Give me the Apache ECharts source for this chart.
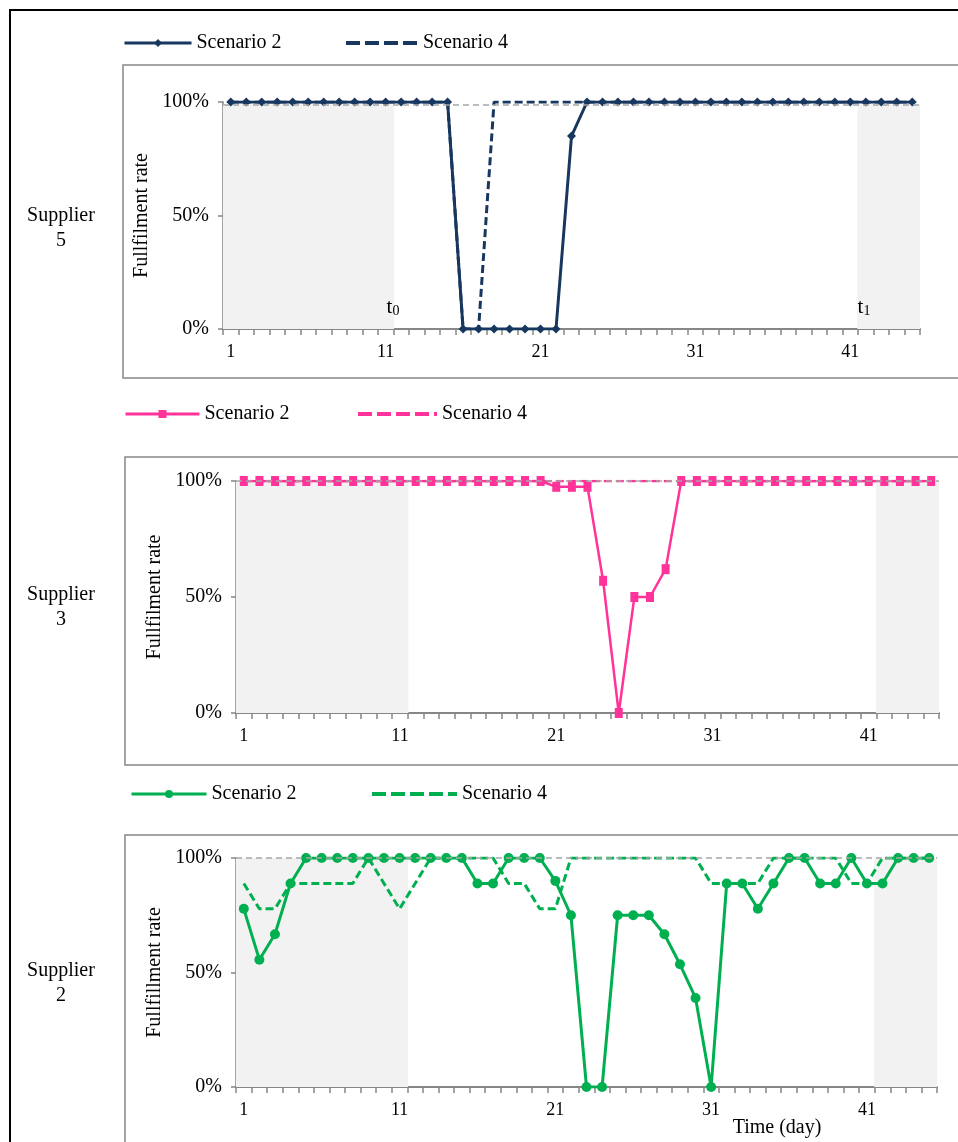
<!DOCTYPE html>
<html>
<head>
<meta charset="utf-8">
<script src="https://cdn.jsdelivr.net/npm/echarts@6/dist/echarts.min.js"></script>
<style>
html,body{margin:0;padding:0;background:#fff;}
#chart{width:958px;height:1142px;}
</style>
</head>
<body>
<div id="chart"></div>
<script>
// ---------- DATA ----------
var days = ['1','2','3','4','5','6','7','8','9','10','11','12','13','14','15','16','17','18','19','20',
            '21','22','23','24','25','26','27','28','29','30','31','32','33','34','35','36','37','38','39','40',
            '41','42','43','44','45'];
var yTicks = [0, 50, 100];

// Supplier 5
var sup5Scenario2 = [100,100,100,100,100,100,100,100,100,100,100,100,100,100,100,
                     0,0,0,0,0,0,0,85,
                     100,100,100,100,100,100,100,100,100,100,100,100,100,100,100,100,100,100,100,100,100,100];
var sup5Scenario4 = [100,100,100,100,100,100,100,100,100,100,100,100,100,100,100,
                     0,0,
                     100,100,100,100,100,100,100,100,100,100,100,100,100,100,100,100,100,100,100,100,100,100,100,100,100,100,100,100];
// Supplier 3
var sup3Scenario2 = [100,100,100,100,100,100,100,100,100,100,100,100,100,100,100,100,100,100,100,100,
                     97.5,97.5,97.5,57,0,50,50,62,
                     100,100,100,100,100,100,100,100,100,100,100,100,100,100,100,100,100];
var sup3Scenario4 = [100,100,100,100,100,100,100,100,100,100,100,100,100,100,100,100,100,100,100,100,
                     100,100,100,100,100,100,100,100,100,100,100,100,100,100,100,100,100,100,100,100,
                     100,100,100,100,100];
// Supplier 2
var sup2Scenario2 = [77.8,55.6,66.7,88.9,100,100,100,100,100,100,100,100,100,100,100,
                     88.9,88.9,100,100,100,90,75,0,0,75,75,75,66.7,53.6,38.9,0,
                     88.9,88.9,77.8,88.9,100,100,88.9,88.9,100,88.9,88.9,100,100,100];
var sup2Scenario4 = [88.9,77.8,77.8,88.9,88.9,88.9,88.9,88.9,100,88.9,77.8,88.9,100,100,100,100,100,
                     88.9,88.9,77.8,77.8,100,100,100,100,100,100,100,100,100,
                     88.9,88.9,88.9,88.9,100,100,100,100,100,88.9,88.9,100,100,100,100];

// shaded periods (before t0 and after t1)
var shadeBefore = 11;   // days 1..11
var shadeAfter = 42;    // days 42..45
var shadeLevel = [99, 100, 100];
var refLevel = [99, 100, 100];

var supplierNames = ['Supplier\n5', 'Supplier\n3', 'Supplier\n2'];
var legendNames = ['Scenario 2', 'Scenario 4'];

// ---------- STYLE ----------
var FONT = 'Liberation Serif';
var AXIS = '#868686';
var colors = ['#17375e', '#ff3399', '#00b050'];
var grids = [
  {left: 223, top: 102, width: 697, height: 227},
  {left: 236, top: 481, width: 703, height: 232},
  {left: 236, top: 858, width: 701, height: 229}
];
var yNames = ['Fullfilment rate', 'Fullfilment rate', 'Fullfillment rate'];
var yNameGap = [69, 65, 65];
var symbols = ['diamond', 'rect', 'circle'];
var symbolSizes = [9, [8, 10], 10];
var lineWidths = [3, 2.5, 3];
var dataSets = [[sup5Scenario2, sup5Scenario4],[sup3Scenario2, sup3Scenario4],[sup2Scenario2, sup2Scenario4]];

function shadeData(level) {
  return days.map(function (d) {
    var n = Number(d);
    return (n <= shadeBefore || n >= shadeAfter) ? level : '-';
  });
}

var xAxes = [], yAxes = [], series = [], gridOpts = [];
for (var i = 0; i < 3; i++) {
  gridOpts.push(Object.assign({containLabel: false, outerBoundsMode: 'none'}, grids[i]));
  xAxes.push({
    type: 'category', gridIndex: i, data: days, boundaryGap: true,
    axisLine: {lineStyle: {color: AXIS, width: 2}},
    axisTick: {show: true, interval: 0, length: 6, lineStyle: {color: AXIS, width: 1.5}},
    axisLabel: {interval: 9, margin: 14, fontSize: 18, fontFamily: FONT, color: '#000'},
    splitLine: {show: false}
  });
  yAxes.push({
    type: 'value', gridIndex: i, min: yTicks[0], max: yTicks[2], interval: yTicks[1] - yTicks[0],
    name: yNames[i], nameLocation: 'middle', nameGap: yNameGap[i],
    nameTextStyle: {fontSize: 20, fontFamily: FONT, color: '#000'},
    axisLine: {show: true, lineStyle: {color: AXIS, width: 1.5}},
    axisTick: {show: true, length: 5, lineStyle: {color: AXIS, width: 1.5}},
    axisLabel: {formatter: '{value}%', fontSize: 20, fontFamily: FONT, color: '#000', margin: 14},
    splitLine: {show: false}
  });
  series.push({
    name: 'shade' + i, type: 'bar', xAxisIndex: i, yAxisIndex: i,
    data: shadeData(shadeLevel[i]), barWidth: 16.8,
    itemStyle: {color: '#f2f2f2'}, silent: true, z: 1,
    markLine: {
      silent: true, symbol: ['none', 'none'], label: {show: false},
      lineStyle: {color: '#a6a6a6', type: [6, 4], width: 1.5},
      data: [{yAxis: refLevel[i]}]
    }
  });
  series.push({
    name: 'p' + i + '|' + legendNames[0], type: 'line', xAxisIndex: i, yAxisIndex: i,
    data: dataSets[i][0], symbol: symbols[i], symbolSize: symbolSizes[i], showAllSymbol: true,
    lineStyle: {color: colors[i], width: lineWidths[i]},
    itemStyle: {color: colors[i]}, z: 4
  });
  series.push({
    name: 'p' + i + '|' + legendNames[1], type: 'line', xAxisIndex: i, yAxisIndex: i,
    data: dataSets[i][1], symbol: 'none', showSymbol: false,
    lineStyle: {color: colors[i], width: lineWidths[i], type: [8, 4]},
    itemStyle: {color: colors[i]}, z: 3
  });
}

var legendPos = [
  [{left: 123, top: 33, w: 67}, {left: 344, top: 33, w: 72}],
  [{left: 124, top: 404, w: 74}, {left: 356, top: 404, w: 79}],
  [{left: 130, top: 784, w: 75}, {left: 370, top: 784, w: 85}]
];
var legends = [];
for (var p = 0; p < 3; p++) {
  for (var k = 0; k < 2; k++) {
    var item = {name: 'p' + p + '|' + legendNames[k]};
    if (k === 1) {
      item.itemStyle = {opacity: 0};
      item.lineStyle = {width: 4, type: [14, 5]};
    } else {
      item.lineStyle = {width: 3};
    }
    legends.push({
      left: legendPos[p][k].left, top: legendPos[p][k].top, padding: 0,
      itemWidth: legendPos[p][k].w, itemHeight: 10, selectedMode: false,
      data: [item],
      formatter: function (name) { return name.split('|')[1]; },
      textStyle: {fontSize: 20, fontFamily: FONT, color: '#000'}
    });
  }
}

var subRich = {t: {fontSize: 21, fontFamily: FONT, fill: '#000'}, s: {fontSize: 14, fontFamily: FONT, fill: '#000', padding: [8, 0, 0, 0]}};
var graphics = [
  {type: 'rect', shape: {x: 10, y: 10, width: 1000, height: 1200}, style: {fill: 'none', stroke: '#000', lineWidth: 2}, z: 0, silent: true},
  {type: 'rect', shape: {x: 123, y: 65, width: 900, height: 313}, style: {fill: 'none', stroke: AXIS, lineWidth: 1.5}, z: 0, silent: true},
  {type: 'rect', shape: {x: 125, y: 457, width: 900, height: 308}, style: {fill: 'none', stroke: AXIS, lineWidth: 1.5}, z: 0, silent: true},
  {type: 'rect', shape: {x: 125, y: 835, width: 900, height: 400}, style: {fill: 'none', stroke: AXIS, lineWidth: 1.5}, z: 0, silent: true},
  {type: 'text', x: 61, y: 228, z: 50, style: {text: supplierNames[0], font: '20px ' + FONT, fill: '#000', align: 'center', verticalAlign: 'middle', lineHeight: 25}},
  {type: 'text', x: 61, y: 607, z: 50, style: {text: supplierNames[1], font: '20px ' + FONT, fill: '#000', align: 'center', verticalAlign: 'middle', lineHeight: 25}},
  {type: 'text', x: 61, y: 983, z: 50, style: {text: supplierNames[2], font: '20px ' + FONT, fill: '#000', align: 'center', verticalAlign: 'middle', lineHeight: 25}},
  {type: 'text', x: 393, y: 307, z: 50, style: {text: '{t|t}{s|0}', align: 'center', verticalAlign: 'middle', rich: subRich}},
  {type: 'text', x: 864, y: 307, z: 50, style: {text: '{t|t}{s|1}', align: 'center', verticalAlign: 'middle', rich: subRich}},
  {type: 'text', x: 777, y: 1128, z: 50, style: {text: 'Time (day)', font: '20px ' + FONT, fill: '#000', align: 'center', verticalAlign: 'middle'}}
];

var chart = echarts.init(document.getElementById('chart'), null, {renderer: 'canvas'});
chart.setOption({
  backgroundColor: '#fff',
  animation: false,
  grid: gridOpts,
  xAxis: xAxes,
  yAxis: yAxes,
  legend: legends,
  series: series,
  graphic: {elements: graphics}
});
</script>
</body>
</html>
